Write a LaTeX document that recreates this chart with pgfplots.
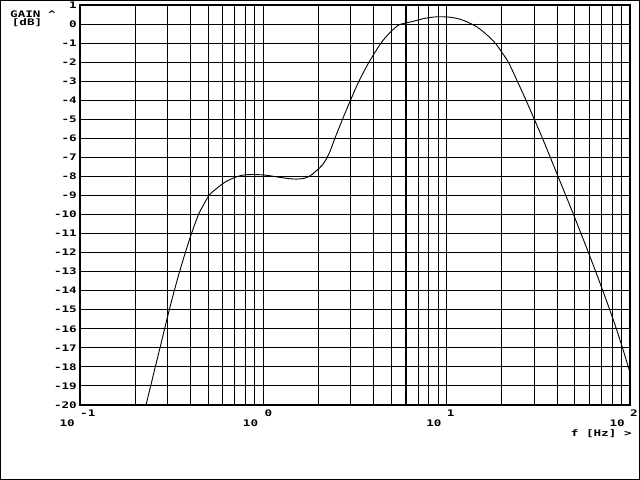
\documentclass[border=0pt]{standalone}
\usepackage{fontspec}
\usepackage{pgfplots}
\pgfplotsset{compat=1.18}
\newfontfamily\lblfont{DejaVu Sans Mono}[FakeStretch=1.4]
\newcommand\lf{\lblfont\bfseries\fontsize{9bp}{9bp}\selectfont}
\begin{document}
\begin{tikzpicture}
\fill[white] (0bp,0bp) rectangle (640bp,480bp);
\draw[line width=1.3bp] (0.65bp,0.65bp) rectangle (639.35bp,479.35bp);
\begin{axis}[
  at={(80bp,75bp)}, anchor=south west, scale only axis,
  width=550bp, height=400bp,
  xmode=log, xmin=0.1, xmax=100,
  ymin=-20, ymax=1,
  xtick={0.1,1,10,100}, xticklabels={},
  ytick={-20,-19,...,1},
  yticklabels={-20,-19,-18,-17,-16,-15,-14,-13,-12,-11,-10,-9,-8,-7,-6,-5,-4,-3,-2,-1,0,1},
  yticklabel style={font=\lf, anchor=east, inner sep=0pt, xshift=-3bp},
  grid=both,
  major grid style={black, line width=1.05bp},
  minor grid style={black, line width=1.05bp},
  axis line style={black, line width=1.2bp},
  tick style={draw=none},
  major tick length=0pt, minor tick length=0pt,
]
\addplot[black, line width=0.9bp, smooth, tension=0.5] table {
x y
0.2291 -20
0.2429 -19
0.2574 -18
0.2731 -17
0.2894 -16
0.3070 -15
0.3268 -14
0.3493 -13
0.3754 -12
0.4056 -11
0.4429 -10
0.4687 -9.55
0.5051 -9
0.5451 -8.7
0.6178 -8.3
0.7006 -8.05
0.7746 -7.93
0.8672 -7.9
1.021 -7.93
1.233 -8.05
1.398 -8.12
1.526 -8.14
1.667 -8.1
1.797 -7.97
1.938 -7.72
2.089 -7.42
2.201 -7.1
2.318 -6.65
2.445 -6.05
2.703 -5
2.989 -4
3.325 -3
3.771 -2
4.383 -1
4.849 -0.5
5.227 -0.2
5.566 -0.02
6.553 0.14
7.616 0.3
8.822 0.38
10.17 0.37
11.34 0.3
12.43 0.18
13.41 0.04
14.45 -0.12
15.59 -0.35
16.81 -0.62
18.58 -1.05
20.04 -1.5
21.69 -2
24.29 -3
27.09 -4
30.06 -5
33.32 -6
36.75 -7
40.49 -8
44.65 -9
49.18 -10
54.05 -11
59.36 -12
65.02 -13
71.07 -14
77.52 -15
84.22 -16
91.02 -17
97.88 -18
100 -18.27
};
\end{axis}
\begin{scope}[every node/.style={font=\lf, inner sep=0pt}]
\node[anchor=base west] at (10bp,462.7bp) {GAIN \textasciicircum};
\node[anchor=base west] at (11.7bp,454bp) {[dB]};
\node[anchor=base west] at (80bp,63.5bp) {-1};
\node[anchor=base east] at (75bp,53bp) {10};
\node[anchor=base west] at (264.3bp,63.5bp) {0};
\node[anchor=base east] at (258.3bp,53bp) {10};
\node[anchor=base west] at (446.7bp,63.5bp) {1};
\node[anchor=base east] at (441.7bp,53bp) {10};
\node[anchor=base west] at (630bp,63.5bp) {2};
\node[anchor=base east] at (625bp,53bp) {10};
\node[anchor=base west] at (570.7bp,43bp) {f [Hz] >};
\end{scope}
\end{tikzpicture}
\end{document}
